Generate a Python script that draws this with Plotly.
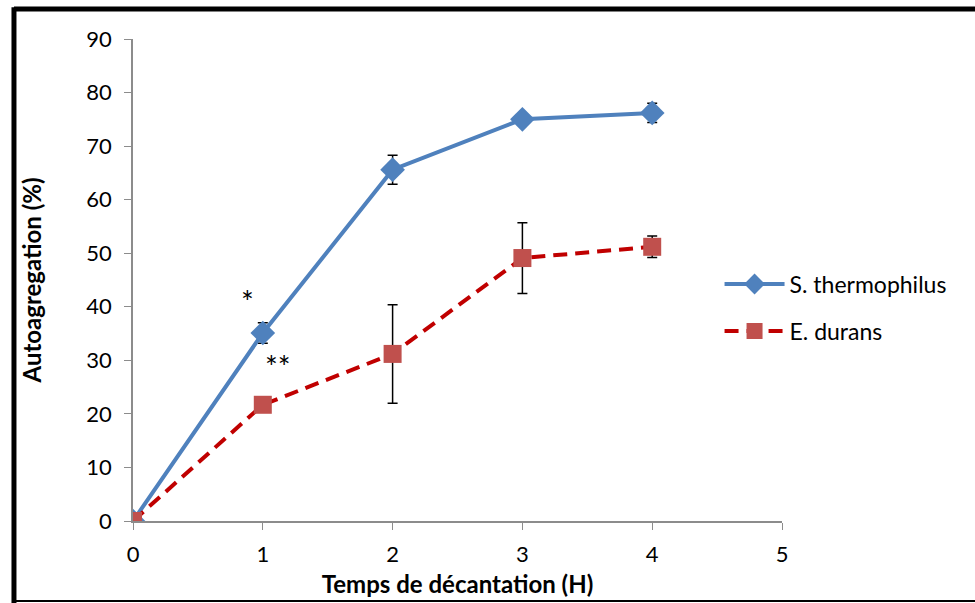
import plotly.graph_objects as go

x_hours = [0, 1, 2, 3, 4]
s_thermo = [0, 35.1, 65.6, 75.0, 76.2]
s_thermo_err = [0, 1.9, 2.7, 0.4, 1.8]
e_durans = [0, 21.7, 31.2, 49.1, 51.2]
e_durans_err = [0, 0.4, 9.2, 6.6, 2.0]
x_ticks = [0, 1, 2, 3, 4, 5]
y_ticks = [0, 10, 20, 30, 40, 50, 60, 70, 80, 90]

FONT = "Lato"

fig = go.Figure()
fig.add_trace(go.Scatter(
    x=x_hours, y=s_thermo, name="S. thermophilus", mode="lines+markers",
    legendgroup="a",
    line=dict(color="#4F81BD", width=4),
    marker=dict(symbol="diamond", size=19, color="#4F81BD"),
    error_y=dict(type="data", array=s_thermo_err, color="black", thickness=1.5, width=5),
))
fig.add_trace(go.Scatter(
    x=x_hours, y=e_durans, name="E. durans", mode="lines+markers",
    legendgroup="b",
    line=dict(color="#C00000", width=4, dash="14px,8px"),
    marker=dict(symbol="square", size=18, color="#C0504D"),
    error_y=dict(type="data", array=e_durans_err, color="black", thickness=1.5, width=5),
))

fig.add_annotation(x=0.88, y=41.0, text="*", showarrow=False, font=dict(size=30, color="black", family=FONT))
fig.add_annotation(x=1.12, y=29.0, text="**", showarrow=False, font=dict(size=30, color="black", family=FONT))

# outer frame
fig.add_shape(type="line", xref="paper", yref="paper", x0=-0.1834, x1=-0.1834, y0=-0.17, y1=1.066,
              line=dict(color="black", width=5))
fig.add_shape(type="line", xref="paper", yref="paper", x0=-0.1834, x1=1.35, y0=1.062, y1=1.062,
              line=dict(color="black", width=5))
fig.add_shape(type="line", xref="paper", yref="paper", x0=-0.1834, x1=1.35, y0=-0.166, y1=-0.166,
              line=dict(color="black", width=2))

fig.update_layout(
    width=975, height=603,
    margin=dict(l=133, r=193, t=39, b=82, autoexpand=False),
    plot_bgcolor="white", paper_bgcolor="white",
    font=dict(family=FONT, size=22, color="black"),
    showlegend=True,
    legend=dict(xref="container", yref="container", x=0.738, y=0.49, xanchor="left", yanchor="middle",
                font=dict(size=23, family=FONT), itemwidth=60, tracegroupgap=14,
                bgcolor="rgba(0,0,0,0)"),
    xaxis=dict(range=[0, 5], tickvals=x_ticks, showgrid=False, zeroline=False,
               showline=True, linecolor="#8c8c8c", linewidth=1.5,
               ticks="outside", ticklen=7, tickcolor="#8c8c8c",
               tickfont=dict(size=22), ticklabelstandoff=6,
               title=dict(text="<b>Temps de décantation (H)</b>", font=dict(size=24), standoff=10)),
    yaxis=dict(range=[0, 90], tickvals=y_ticks, showgrid=False, zeroline=False,
               showline=True, linecolor="#8c8c8c", linewidth=1.5,
               ticks="outside", ticklen=7, tickcolor="#8c8c8c",
               tickfont=dict(size=22), ticklabelstandoff=8,
               title=dict(text="<b>Autoagregation (%)</b>", font=dict(size=24), standoff=38)),
)

fig.write_html("out.html")
